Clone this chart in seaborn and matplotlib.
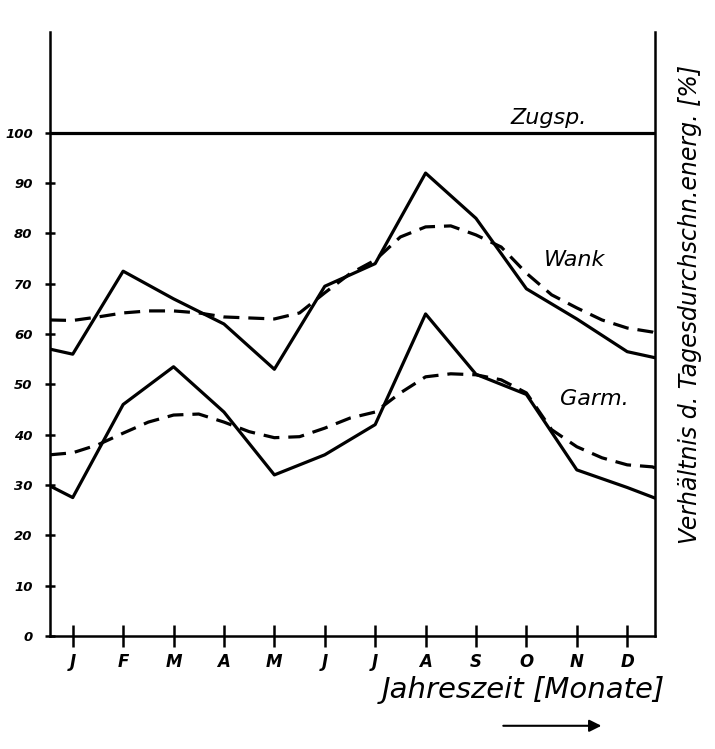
import numpy as np
import pandas as pd
import matplotlib
matplotlib.use("Agg")
import matplotlib.pyplot as plt
import seaborn as sns

# month labels and positions (incl. the two axis edges where curves start/end)
months = ["J", "F", "M", "A", "M", "J", "J", "A", "S", "O", "N", "D"]
x_edge_left, x_edge_right = -0.45, 11.55
x_pos = [x_edge_left] + list(range(12)) + [x_edge_right]
# dashed curves were read every half month
x_half = [x_edge_left] + [k / 2 for k in range(24)] + [x_edge_right]

# monthly values (edge, J..D, edge)
wank = [57, 56, 72.5, 67, 62, 53, 69.5, 74, 92, 83, 69, 63, 56.5, 55.3]
garm = [29.8, 27.5, 46, 53.5, 44.5, 32, 36, 42, 64, 52, 48, 33, 29.5, 27.4]

# smoothed (dashed) curves, half-month readings (edge, J, J+.5, F, ..., D, D+.5, edge)
wank_smooth = [62.8, 62.7, 63.4, 64.2, 64.6, 64.6, 64.2, 63.4, 63.2, 63.0, 64.2,
               68.2, 72.0, 74.7, 79.3, 81.3, 81.5, 79.7, 77.3, 72.1, 67.8,
               65.2, 62.8, 61.2, 60.4, 60.2]
garm_smooth = [36.0, 36.4, 38.0, 40.3, 42.5, 43.9, 44.1, 42.5, 40.6, 39.4, 39.6,
               41.3, 43.3, 44.5, 48.3, 51.5, 52.1, 51.9, 50.9, 48.3, 41.0,
               37.6, 35.4, 34.0, 33.6, 33.4]
zugsp = [100, 100]

y_ticks = list(range(0, 101, 10))

sns.set_style("white")
plt.rcParams['font.family'] = ['DejaVu Sans']
plt.rcParams['text.color'] = 'black'
plt.rcParams['xtick.color'] = 'black'
plt.rcParams['ytick.color'] = 'black'

fig = plt.figure(figsize=(7.15, 7.49), dpi=100)
ax = fig.add_axes([0.070, 0.151, 0.846, 0.806])

lw = 2.3
dash = (0, (5, 2.8))
sns.lineplot(x=x_pos, y=wank, color="black", lw=lw, ax=ax, sort=False)
sns.lineplot(x=x_pos, y=garm, color="black", lw=lw, ax=ax, sort=False)
sns.lineplot(x=x_half, y=wank_smooth, color="black", lw=lw, ax=ax, sort=False,
             linestyle=dash)
sns.lineplot(x=x_half, y=garm_smooth, color="black", lw=lw, ax=ax, sort=False,
             linestyle=dash)
sns.lineplot(x=[x_edge_left, x_edge_right], y=zugsp, color="black", lw=lw, ax=ax)

ax.set_xlim(x_edge_left, x_edge_right)
ax.set_ylim(0, 120)

ax.set_xticks(range(12))
ax.set_xticklabels(months, fontsize=12, fontweight="bold", fontstyle="italic")
ax.set_yticks(y_ticks)
ax.set_yticklabels([str(v) for v in y_ticks], fontsize=9.5, fontweight="bold",
                   fontstyle="italic")
ax.tick_params(axis="x", direction="inout", length=16, width=1.8, pad=4,
               bottom=True, colors="black")
ax.tick_params(axis="y", direction="inout", length=7, width=1.8, pad=9, left=True,
               colors="black")

for side in ["left", "bottom", "right"]:
    ax.spines[side].set_color("black")
    ax.spines[side].set_linewidth(1.8)
ax.spines["top"].set_visible(False)

# curve labels
ax.text(9.45, 103, "Zugsp.", fontsize=16, fontstyle="italic", ha="center", va="center")
ax.text(9.95, 74.7, "Wank", fontsize=16, fontstyle="italic", ha="center", va="center")
ax.text(10.35, 47, "Garm.", fontsize=16, fontstyle="italic", ha="center", va="center")

# axis titles
fig.text(0.732, 0.079, "Jahreszeit [Monate]", fontsize=21, fontstyle="italic",
         ha="center", va="center")
fig.text(0.965, 0.593, "Verhältnis d. Tagesdurchschn.energ. [%]", fontsize=17,
         fontstyle="italic", rotation=90, ha="center", va="center")
ax.annotate("", xy=(0.845, 0.031), xytext=(0.70, 0.031), xycoords="figure fraction",
            arrowprops=dict(arrowstyle="-|>", color="black", lw=1.5,
                            mutation_scale=18))

fig.savefig("out.png", dpi=100)
